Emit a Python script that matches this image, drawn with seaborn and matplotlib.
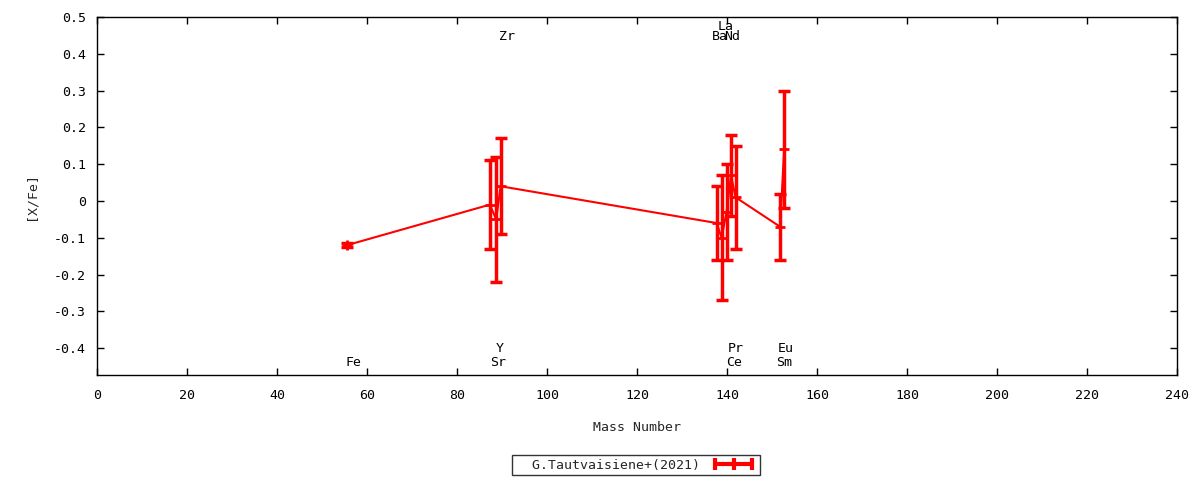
import numpy as np
import pandas as pd
import matplotlib
matplotlib.use('Agg')
import matplotlib.pyplot as plt
from matplotlib.lines import Line2D
import seaborn as sns

# abundances
elements = ['Fe', 'Sr', 'Y', 'Zr', 'Ba', 'La', 'Ce', 'Pr', 'Nd', 'Sm', 'Eu']
mass = [55.6, 87.3, 88.7, 89.7, 137.7, 138.8, 139.9, 140.9, 141.9, 151.8, 152.7]
xfe = [-0.12, -0.01, -0.05, 0.04, -0.06, -0.10, -0.03, 0.07, 0.01, -0.07, 0.14]
err = [0.005, 0.12, 0.17, 0.13, 0.10, 0.17, 0.13, 0.11, 0.14, 0.09, 0.16]

# element name labels (gnuplot style, above / below the data)
label_x = [57.1, 89.1, 89.5, 91.1, 138.4, 139.7, 141.5, 141.9, 141.2, 152.7, 153.1]
label_y = [-0.44, -0.44, -0.40, 0.446, 0.446, 0.473, -0.44, -0.40, 0.446, -0.44, -0.40]

xticks = list(range(0, 241, 20))
yticks = [-0.4, -0.3, -0.2, -0.1, 0, 0.1, 0.2, 0.3, 0.4, 0.5]

df = pd.DataFrame({'element': elements, 'mass': mass, 'xfe': xfe, 'err': err})

sns.set_style('ticks')
plt.rcParams['font.family'] = ['DejaVu Sans Mono']
plt.rcParams['axes.unicode_minus'] = False

fig = plt.figure(figsize=(12, 4.8), dpi=100)
ax = fig.add_axes([97 / 1200, 1 - 375 / 480, 1080 / 1200, 358 / 480])

red = '#ff0000'
sns.lineplot(data=df, x='mass', y='xfe', color=red, lw=1.5, marker='+',
             markersize=7, markeredgewidth=2, markeredgecolor=red,
             sort=False, legend=False, ax=ax)
ax.errorbar(df['mass'], df['xfe'], yerr=df['err'], fmt='none', ecolor=red,
            elinewidth=2.5, capsize=4, capthick=2.5)

for name, lx, ly in zip(elements, label_x, label_y):
    ax.text(lx, ly, name, ha='center', va='center', fontsize=9.5, color='black')

ax.set_xlim(0, 240)
ax.set_ylim(-0.473, 0.5)
ax.set_xticks(xticks)
ax.set_yticks(yticks)
ax.set_yticklabels([f'{v:g}' for v in yticks])
ax.tick_params(direction='in', length=5, width=1, top=True, right=True,
               labelsize=9.5, pad=8, colors='black')
ax.tick_params(axis='x', pad=10)
for s in ax.spines.values():
    s.set_visible(True)
    s.set_color('black')
    s.set_linewidth(1)

ax.set_xlabel('Mass Number', fontsize=9.5, labelpad=14)
ax.set_ylabel('[X/Fe]', fontsize=9.5, labelpad=12)

handle = Line2D([], [], color=red, lw=3, marker='|', markersize=9,
                markeredgewidth=3)
leg = fig.legend([handle], ['  G.Tautvaisiene+(2021)'], loc='center',
                 bbox_to_anchor=(636 / 1200, 1 - 465 / 480), numpoints=3,
                 markerfirst=False, fancybox=False, frameon=True,
                 edgecolor='black', fontsize=9.5, handlelength=3.4,
                 borderpad=0.3, handletextpad=0.9, borderaxespad=0)
leg.get_frame().set_linewidth(1)

fig.savefig('out.png', dpi=100)
